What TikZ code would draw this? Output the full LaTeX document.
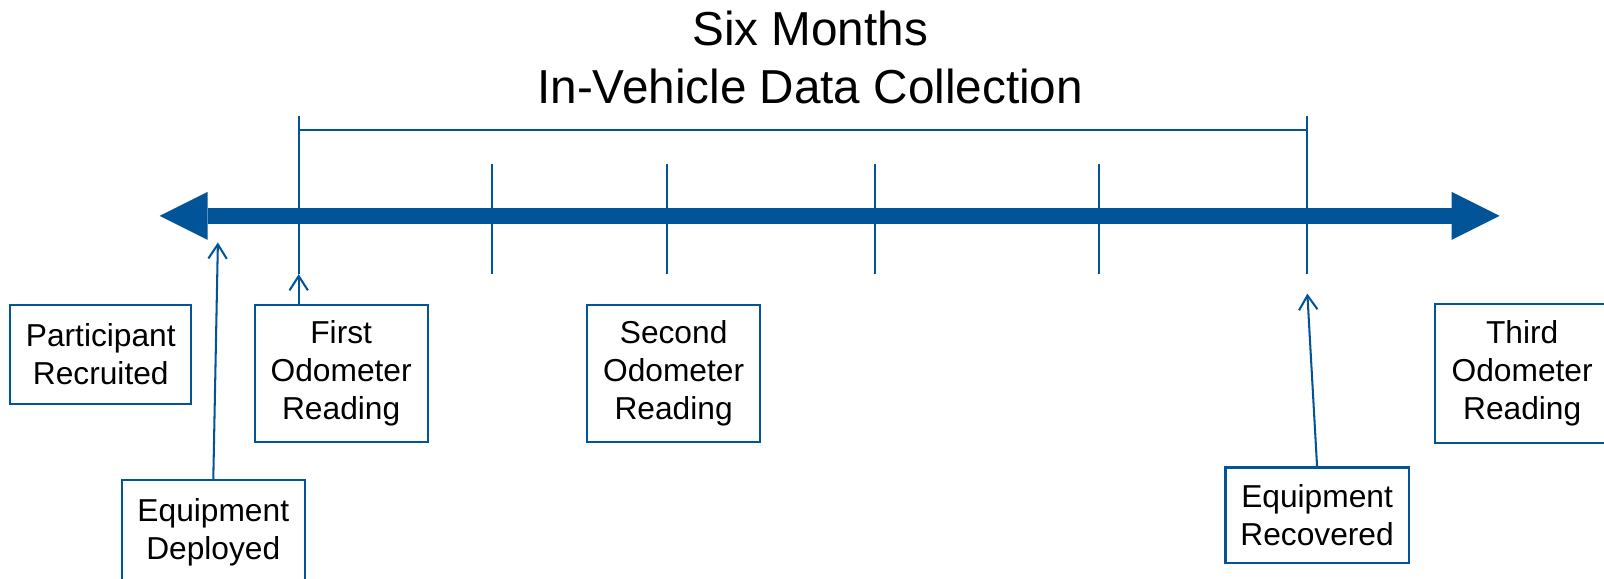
\documentclass[tikz,border=0pt]{standalone}
\usepackage{fontspec}
\setmainfont{Liberation Sans}
\usetikzlibrary{arrows.meta}
\definecolor{tlblue}{RGB}{2,84,152}

\begin{document}
\begin{tikzpicture}[x=0.5pt, y=-0.5pt,
  box/.style={draw=tlblue, line width=1pt, align=center, inner sep=0pt,
    minimum width=84.5pt, minimum height=67pt, font=\fontsize{15.5}{18.5}\selectfont},
  tick/.style={draw=tlblue, line width=1pt},
  ptr/.style={tlblue, line width=1pt, -{Straight Barb[length=7pt,width=9pt]}}]
  \useasboundingbox (0,0) rectangle (1568,566);
  \clip (0,0) rectangle (1568,566);
  \node (title) [align=center, font=\fontsize{23.3}{28.5}\selectfont] at (792,56) {Six Months\\In-Vehicle Data Collection};
  % time line
  \coordinate (start) at (156,211);
  \coordinate (end) at (1466,211);
  \draw[tlblue, line width=8pt, {Triangle[length=23.5pt,width=23.5pt,line width=0pt]}-{Triangle[length=23.5pt,width=23.5pt,line width=0pt]}] (start) -- (end);
  \foreach \x in {481,652,855,1074}
    \draw[tick] (\x,160) -- (\x,268);
  \coordinate (t1) at (292,268);
  \coordinate (t6) at (1278,268);
  \draw[tick] (t1) -- (292,113) (292,127) -- (1278,127) (1278,113) -- (t6);
  % boxes
  \node (recruited) [box, minimum width=88.5pt, minimum height=48.5pt] at (98.5,346.5) {Participant\\Recruited};
  \node (first) [box] at (333.5,365) {First\\Odometer\\Reading};
  \node (second) [box] at (658.5,365) {Second\\Odometer\\Reading};
  \node (third) [box, draw=none] at (1488,365) {Third\\Odometer\\Reading};
  \draw[tick] ([xshift=20pt]third.north east) -| (third.south west) -- ([xshift=20pt]third.south east);
  \node (deployed) [box, draw=none, minimum width=88.5pt, minimum height=50pt] at (208.5,520) {Equipment\\Deployed};
  \draw[tick] ([yshift=-10pt]deployed.south west) |- (deployed.north east) -- ([yshift=-10pt]deployed.south east);
  \node (recovered) [box, minimum width=89.5pt, minimum height=46.5pt] at (1287.5,503.5) {Equipment\\Recovered};
  % pointers
  \coordinate (deployTip) at (213,237);
  \coordinate (recoverTip) at (1278,287);
  \path[ptr]
  (deployed.north) edge (deployTip)
  (first.north -| t1) edge (t1)
  (recovered.north) edge (recoverTip)
  ;
\end{tikzpicture}
\end{document}
